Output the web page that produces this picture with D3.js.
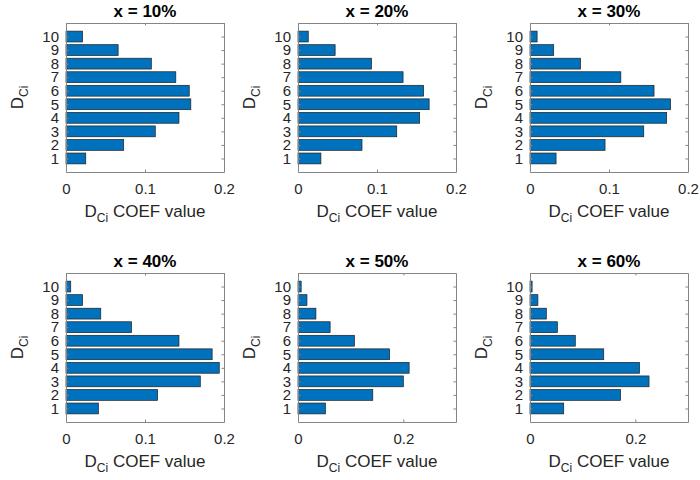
<!DOCTYPE html>
<html>
<head>
<meta charset="utf-8">
<script src="https://cdn.jsdelivr.net/npm/d3@7"></script>
<style>
  body { margin: 0; background: #fff; }
  svg { font-family: "Liberation Sans", Arial, Helvetica, sans-serif; }
</style>
</head>
<body>
<svg id="chart" width="700" height="480"></svg>
<script>
// D_Ci categories and COEF values
const dci = [1, 2, 3, 4, 5, 6, 7, 8, 9, 10];
const titles = ['x = 10%', 'x = 20%', 'x = 30%', 'x = 40%', 'x = 50%', 'x = 60%'];
const coef10 = [0.025, 0.073, 0.113, 0.143, 0.158, 0.156, 0.139, 0.108, 0.066, 0.021];
const coef20 = [0.029, 0.081, 0.125, 0.154, 0.166, 0.159, 0.133, 0.093, 0.047, 0.013];
const coef30 = [0.033, 0.095, 0.144, 0.173, 0.178, 0.157, 0.115, 0.064, 0.030, 0.009];
const coef40 = [0.041, 0.116, 0.170, 0.194, 0.185, 0.143, 0.083, 0.044, 0.021, 0.006];
const coef50 = [0.052, 0.142, 0.200, 0.211, 0.174, 0.107, 0.061, 0.034, 0.017, 0.006];
const coef60 = [0.064, 0.172, 0.226, 0.208, 0.140, 0.086, 0.052, 0.031, 0.015, 0.004];
const xMaxes = [0.2, 0.2, 0.2, 0.2, 0.3, 0.3];
const xTicks = [[0, 0.1, 0.2], [0, 0.1, 0.2], [0, 0.1, 0.2], [0, 0.1, 0.2], [0, 0.2], [0, 0.2]];
const series = [coef10, coef20, coef30, coef40, coef50, coef60];

const svg = d3.select('#chart');
const lefts = [66, 298, 530];
const tops = [23, 273];
const width = 158;
const height = 149;
const boxColor = '#858585';
const textColor = '#262626';

series.forEach((vals, i) => {
  const left = lefts[i % 3];
  const top = tops[Math.floor(i / 3)];
  const g = svg.append('g').attr('transform', 'translate(' + left + ',' + top + ')');

  const x = d3.scaleLinear().domain([0, xMaxes[i]]).range([0, width]);
  const y = d3.scaleLinear().domain([0, 11]).range([height, 0]);
  const barH = y(0) - y(0.8);

  // bars
  g.append('g')
      .selectAll('rect')
      .data(vals)
      .enter()
      .append('rect')
      .attr('x', x(0))
      .attr('y', (d, j) => y(dci[j]) - barH / 2)
      .attr('width', (d) => x(d) - x(0))
      .attr('height', barH)
      .attr('fill', '#0072BD')
      .attr('stroke', '#1f1f1f')
      .attr('stroke-width', 0.7);

  // axes, ticks pointing inward like MATLAB
  const bottom = g.append('g').attr('transform', 'translate(0,' + height + ')')
      .call(d3.axisBottom(x).tickValues(xTicks[i]).tickFormat(d3.format('~g'))
          .tickSizeInner(-2.5).tickSizeOuter(0).tickPadding(11));
  const leftAx = g.append('g')
      .call(d3.axisLeft(y).tickValues(dci).tickSizeInner(-2.5).tickSizeOuter(0).tickPadding(7));
  const topAx = g.append('g')
      .call(d3.axisTop(x).tickValues(xTicks[i]).tickFormat('').tickSizeInner(-2.5).tickSizeOuter(0));
  const rightAx = g.append('g').attr('transform', 'translate(' + width + ',0)')
      .call(d3.axisRight(y).tickValues(dci).tickFormat('').tickSizeInner(-2.5).tickSizeOuter(0));

  [bottom, leftAx, topAx, rightAx].forEach((a) => {
    a.select('.domain').attr('stroke', boxColor);
    a.selectAll('.tick line').attr('stroke', boxColor);
    a.selectAll('.tick text').attr('fill', textColor).style('font-size', '15px');
  });

  // title
  g.append('text')
      .attr('x', width / 2)
      .attr('y', -6)
      .attr('text-anchor', 'middle')
      .attr('fill', '#000')
      .style('font-size', '17px')
      .style('font-weight', 'bold')
      .text(titles[i]);

  // x label
  const xl = g.append('text')
      .attr('x', width / 2)
      .attr('y', height + 45)
      .attr('text-anchor', 'middle')
      .attr('fill', textColor)
      .style('font-size', '17px');
  xl.append('tspan').text('D');
  xl.append('tspan').attr('dy', 5).style('font-size', '12px').text('Ci');
  xl.append('tspan').attr('dy', -5).text(' COEF value');

  // y label
  const yl = g.append('text')
      .attr('transform', 'translate(-43,' + (height / 2) + ') rotate(-90)')
      .attr('text-anchor', 'middle')
      .attr('fill', textColor)
      .style('font-size', '17px');
  yl.append('tspan').text('D');
  yl.append('tspan').attr('dy', 5).style('font-size', '12px').text('Ci');
});
</script>
</body>
</html>
